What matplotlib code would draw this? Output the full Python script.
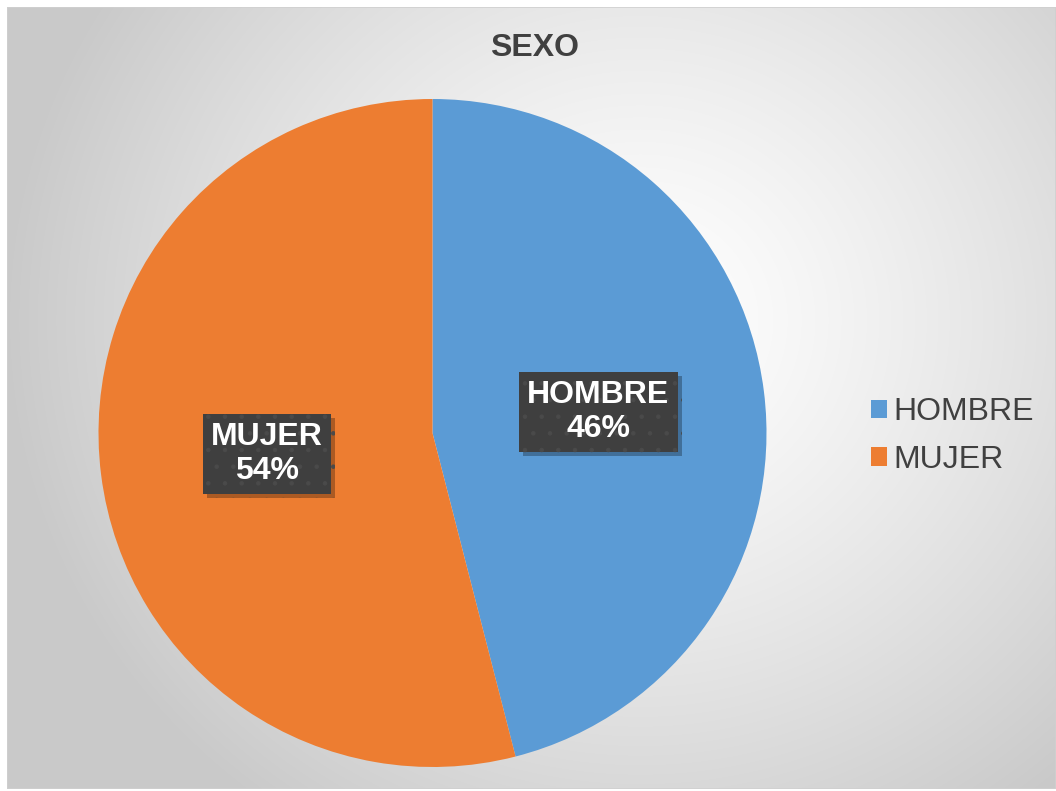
import numpy as np
import matplotlib
matplotlib.use("Agg")
import matplotlib.pyplot as plt
from matplotlib import patheffects as pe
from matplotlib.patches import Patch, Rectangle

categories = ["HOMBRE", "MUJER"]
values = [46, 54]
colors = ["#5B9BD5", "#ED7D31"]
title = "SEXO"

W, H = 1056, 791
fig = plt.figure(figsize=(W / 100, H / 100), dpi=100)
fig.patch.set_facecolor("white")
plt.rcParams["font.family"] = ["Liberation Sans", "DejaVu Sans"]

# background chart area with radial gradient
x0, y0, x1, y1 = 7, 7, 1056, 789
bg = fig.add_axes([x0 / W, 1 - y1 / H, (x1 - x0) / W, (y1 - y0) / H])
xs = np.arange(x0, x1)
ys = np.arange(y0, y1)
X, Y = np.meshgrid(xs, ys)
d = np.hypot((X - 640) / 1.0, (Y - 320) / 0.95)
v = 1 - 0.17 * (d / 540) ** 1.3
v = np.clip(v, 0.79, 0.985)
img = np.dstack([v, v, v])
bg.imshow(img, aspect="auto", extent=(0, 1, 0, 1), interpolation="bilinear")
bg.set_xlim(0, 1)
bg.set_ylim(0, 1)
bg.axis("off")
bg.add_patch(Rectangle((0, 0), 1, 1, transform=bg.transAxes, fill=False,
                       edgecolor="#d0d0d0", linewidth=1.2))

# pie
cx, cy, r = 432.5, 433, 334
ax = fig.add_axes([(cx - r) / W, 1 - (cy + r) / H, 2 * r / W, 2 * r / H])
ax.set_facecolor("none")
wedges, _ = ax.pie(values, colors=colors, startangle=90, counterclock=False,
                   radius=1, wedgeprops=dict(linewidth=0))
ax.set_xlim(-1, 1)
ax.set_ylim(-1, 1)
ax.set_aspect("equal")
ax.axis("off")

plt.rcParams["hatch.color"] = "#4a4a4a"
plt.rcParams["hatch.linewidth"] = 0.8
total = sum(values)
for w, cat, val in zip(wedges, categories, values):
    ang = np.deg2rad((w.theta1 + w.theta2) / 2)
    tx, ty = 0.5 * np.cos(ang), 0.5 * np.sin(ang)
    t = ax.text(tx, ty, f"{cat}\n{round(100 * val / total)}%", ha="center", va="center",
                color="white", fontsize=23, fontweight="bold", linespacing=1.15,
                bbox=dict(boxstyle="square,pad=0.26", facecolor="#3f3f3f",
                          edgecolor="#4a4a4a", linewidth=0, hatch="."))
    t.get_bbox_patch().set_path_effects([
        pe.SimplePatchShadow(offset=(3, -3), shadow_rgbFace="black", alpha=0.28),
        pe.Normal()])

fig.text(535 / W, 1 - 48 / H, title, ha="center", va="center", fontsize=23,
         fontweight="bold", color="#404040")

handles = [Patch(facecolor=c, edgecolor="none") for c in colors]
leg = fig.legend(handles, categories, loc="center left",
                 bbox_to_anchor=(849 / W, 1 - 436 / H), frameon=False,
                 fontsize=23, labelcolor="#404040", handlelength=0.5,
                 handleheight=0.5, handletextpad=0.2, labelspacing=0.55,
                 borderpad=0.2)

fig.savefig("out.png", dpi=100)
